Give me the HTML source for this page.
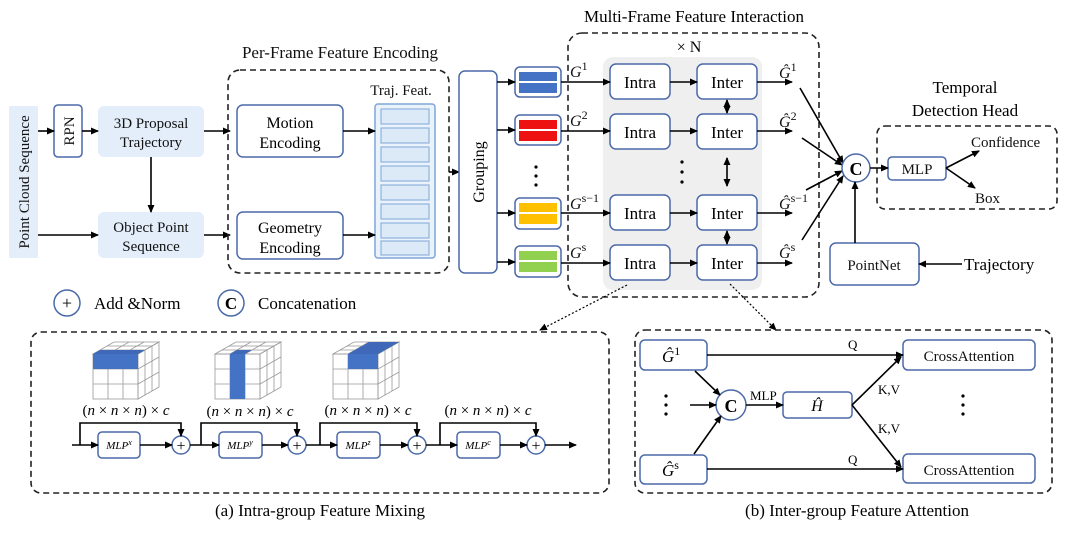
<!DOCTYPE html>
<html><head><meta charset="utf-8"><style>
html,body{margin:0;padding:0;background:#fff;}
svg{display:block;font-family:"Liberation Serif",serif;}
.bx{fill:#fff;stroke:#4a69a8;stroke-width:1.5;}
.lb{fill:#e3eefa;stroke:none;}
.dash{fill:none;stroke:#222;stroke-width:1.6;stroke-dasharray:6,4;}
.ln{stroke:#000;stroke-width:1.6;fill:none;}
.t{font-size:15px;fill:#111;}
.it{font-style:italic;}
.g{stroke:#999;stroke-width:0.8;fill:none;}
</style></head><body>
<svg width="1080" height="534" viewBox="0 0 1080 534" xmlns="http://www.w3.org/2000/svg">
<defs>
<marker id="a" markerWidth="8" markerHeight="8" refX="7" refY="4" orient="auto" markerUnits="userSpaceOnUse"><path d="M0,0.5 L8,4 L0,7.5 z" fill="#000"/></marker>
<marker id="as" markerWidth="8" markerHeight="8" refX="1" refY="4" orient="auto" markerUnits="userSpaceOnUse"><path d="M8,0.5 L0,4 L8,7.5 z" fill="#000"/></marker>
<g id="cube">
<rect x="0" y="12" width="45" height="45" fill="#fff" class="g"/>
<polygon points="0,12 45,12 66,0 21,0" fill="#fff" class="g"/>
<polygon points="45,12 66,0 66,45 45,57" fill="#fff" class="g"/>
<path class="g" d="M15,12V57M30,12V57M0,27H45M0,42H45M15,12L36,0M30,12L51,0M7,8H52M14,4H59M52,8V53M59,4V49M45,27L66,15M45,42L66,30"/>
</g>
</defs>

<!-- titles -->
<text x="340" y="58" class="t" font-size="17" text-anchor="middle" style="font-size:17px">Per-Frame Feature Encoding</text>
<text x="694" y="22" text-anchor="middle" style="font-size:17px">Multi-Frame Feature Interaction</text>
<text x="965" y="93" text-anchor="middle" style="font-size:17px">Temporal</text>
<text x="965" y="116" text-anchor="middle" style="font-size:17px">Detection Head</text>

<!-- left -->
<rect x="9" y="106" width="29" height="152" class="lb" rx="2"/>
<text transform="translate(29,182) rotate(-90)" text-anchor="middle" class="t">Point Cloud Sequence</text>
<rect x="54" y="105" width="28" height="52" rx="4" class="bx"/>
<text transform="translate(74,131) rotate(-90)" text-anchor="middle" class="t">RPN</text>
<rect x="98" y="106" width="106" height="51" rx="6" class="lb"/>
<text x="151" y="128" text-anchor="middle" class="t">3D Proposal</text>
<text x="151" y="147" text-anchor="middle" class="t">Trajectory</text>
<rect x="98" y="212" width="106" height="46" rx="6" class="lb"/>
<text x="151" y="232" text-anchor="middle" class="t">Object Point</text>
<text x="151" y="251" text-anchor="middle" class="t">Sequence</text>
<line x1="38" y1="131" x2="54" y2="131" class="ln" marker-end="url(#a)"/>
<line x1="82" y1="131" x2="98" y2="131" class="ln" marker-end="url(#a)"/>
<line x1="151" y1="157" x2="151" y2="212" class="ln" marker-end="url(#a)"/>
<line x1="38" y1="235" x2="98" y2="235" class="ln" marker-end="url(#a)"/>
<line x1="204" y1="131" x2="230" y2="131" class="ln" marker-end="url(#a)"/>
<line x1="204" y1="235" x2="230" y2="235" class="ln" marker-end="url(#a)"/>

<!-- per-frame -->
<rect x="228" y="70" width="221" height="203" rx="12" class="dash"/>
<rect x="237" y="105" width="106" height="52" rx="6" class="bx"/>
<text x="290" y="128" text-anchor="middle" style="font-size:16px">Motion</text>
<text x="290" y="148" text-anchor="middle" style="font-size:16px">Encoding</text>
<rect x="237" y="212" width="106" height="47" rx="6" class="bx"/>
<text x="290" y="233" text-anchor="middle" style="font-size:16px">Geometry</text>
<text x="290" y="253" text-anchor="middle" style="font-size:16px">Encoding</text>
<text x="401" y="95" text-anchor="middle" class="t">Traj. Feat.</text>
<rect x="375" y="104" width="60" height="154" rx="3" fill="#eaf2fb" stroke="#7fa6d6" stroke-width="1.5"/>
<g fill="#dce9f7" stroke="#8fb3de" stroke-width="1.2">
<rect x="381" y="109" width="48" height="15"/><rect x="381" y="128" width="48" height="15"/>
<rect x="381" y="147" width="48" height="15"/><rect x="381" y="166" width="48" height="15"/>
<rect x="381" y="185" width="48" height="15"/><rect x="381" y="204" width="48" height="15"/>
<rect x="381" y="223" width="48" height="15"/><rect x="381" y="241" width="48" height="14"/>
</g>
<line x1="343" y1="131" x2="375" y2="131" class="ln" marker-end="url(#a)"/>
<line x1="343" y1="235" x2="375" y2="235" class="ln" marker-end="url(#a)"/>
<line x1="449" y1="172" x2="459" y2="172" class="ln" marker-end="url(#a)"/>

<!-- grouping -->
<rect x="459" y="71" width="38" height="202" rx="6" class="bx"/>
<text transform="translate(484,172) rotate(-90)" text-anchor="middle" style="font-size:16px">Grouping</text>

<!-- color boxes -->
<g>
<rect x="515" y="67" width="46" height="30" rx="5" class="bx"/>
<rect x="519" y="72" width="38" height="9" fill="#4472c4"/><rect x="519" y="83" width="38" height="10" fill="#4472c4"/>
<rect x="515" y="115" width="46" height="30" rx="5" class="bx"/>
<rect x="519" y="120" width="38" height="9" fill="#ee1111"/><rect x="519" y="131" width="38" height="10" fill="#ee1111"/>
<rect x="515" y="198" width="46" height="31" rx="5" class="bx"/>
<rect x="519" y="203" width="38" height="9" fill="#ffc000"/><rect x="519" y="214" width="38" height="10" fill="#ffc000"/>
<rect x="515" y="246" width="46" height="31" rx="5" class="bx"/>
<rect x="519" y="251" width="38" height="9" fill="#92d050"/><rect x="519" y="262" width="38" height="10" fill="#92d050"/>
</g>
<g fill="#000"><circle cx="536" cy="167" r="1.6"/><circle cx="536" cy="176" r="1.6"/><circle cx="536" cy="185" r="1.6"/></g>
<line x1="497" y1="82" x2="515" y2="82" class="ln" marker-end="url(#a)"/>
<line x1="497" y1="130" x2="515" y2="130" class="ln" marker-end="url(#a)"/>
<line x1="497" y1="213" x2="515" y2="213" class="ln" marker-end="url(#a)"/>
<line x1="497" y1="262" x2="515" y2="262" class="ln" marker-end="url(#a)"/>

<!-- multi-frame -->
<rect x="603" y="57" width="159" height="233" rx="10" fill="#efefef"/>
<rect x="568" y="33" width="251" height="264" rx="14" class="dash"/>
<text x="689" y="52" text-anchor="middle" style="font-size:16px">× N</text>
<g class="t" style="font-size:16px">
<text x="570" y="77" class="it">G<tspan dy="-7" font-size="12" font-style="normal">1</tspan></text>
<text x="570" y="126" class="it">G<tspan dy="-7" font-size="12" font-style="normal">2</tspan></text>
<text x="570" y="209" class="it">G<tspan dy="-7" font-size="12" font-style="normal">s−1</tspan></text>
<text x="570" y="258" class="it">G<tspan dy="-7" font-size="12" font-style="normal">s</tspan></text>
<text x="779" y="78" class="it">Ĝ<tspan dy="-7" font-size="12" font-style="normal">1</tspan></text>
<text x="779" y="127" class="it">Ĝ<tspan dy="-7" font-size="12" font-style="normal">2</tspan></text>
<text x="779" y="209" class="it">Ĝ<tspan dy="-7" font-size="12" font-style="normal">s−1</tspan></text>
<text x="779" y="258" class="it">Ĝ<tspan dy="-7" font-size="12" font-style="normal">s</tspan></text>
</g>
<g>
<rect x="610" y="64" width="60" height="35" rx="6" class="bx"/><rect x="697" y="64" width="60" height="35" rx="6" class="bx"/>
<rect x="610" y="114" width="60" height="35" rx="6" class="bx"/><rect x="697" y="114" width="60" height="35" rx="6" class="bx"/>
<rect x="610" y="195" width="60" height="35" rx="6" class="bx"/><rect x="697" y="195" width="60" height="35" rx="6" class="bx"/>
<rect x="610" y="245" width="60" height="35" rx="6" class="bx"/><rect x="697" y="245" width="60" height="35" rx="6" class="bx"/>
</g>
<g style="font-size:17px" text-anchor="middle">
<text x="640" y="88">Intra</text><text x="727" y="88">Inter</text>
<text x="640" y="138">Intra</text><text x="727" y="138">Inter</text>
<text x="640" y="219">Intra</text><text x="727" y="219">Inter</text>
<text x="640" y="269">Intra</text><text x="727" y="269">Inter</text>
</g>
<g fill="#000"><circle cx="682" cy="162" r="1.6"/><circle cx="682" cy="172" r="1.6"/><circle cx="682" cy="182" r="1.6"/></g>
<g>
<line x1="561" y1="82" x2="610" y2="82" class="ln" marker-end="url(#a)"/>
<line x1="561" y1="131" x2="610" y2="131" class="ln" marker-end="url(#a)"/>
<line x1="561" y1="213" x2="610" y2="213" class="ln" marker-end="url(#a)"/>
<line x1="561" y1="263" x2="610" y2="263" class="ln" marker-end="url(#a)"/>
<line x1="670" y1="82" x2="697" y2="82" class="ln" marker-end="url(#a)"/>
<line x1="670" y1="131" x2="697" y2="131" class="ln" marker-end="url(#a)"/>
<line x1="670" y1="213" x2="697" y2="213" class="ln" marker-end="url(#a)"/>
<line x1="670" y1="263" x2="697" y2="263" class="ln" marker-end="url(#a)" stroke-width="2.4"/>
<line x1="757" y1="82" x2="792" y2="82" class="ln" marker-end="url(#a)"/>
<line x1="757" y1="131" x2="792" y2="131" class="ln" marker-end="url(#a)"/>
<line x1="757" y1="213" x2="792" y2="213" class="ln" marker-end="url(#a)"/>
<line x1="757" y1="263" x2="792" y2="263" class="ln" marker-end="url(#a)"/>
<line x1="727" y1="100" x2="727" y2="113" class="ln" marker-end="url(#a)" marker-start="url(#as)"/>
<line x1="727" y1="158" x2="727" y2="186" class="ln" marker-end="url(#a)" marker-start="url(#as)"/>
<line x1="727" y1="231" x2="727" y2="244" class="ln" marker-end="url(#a)" marker-start="url(#as)"/>
</g>
<line x1="800" y1="88" x2="843" y2="163" class="ln" marker-end="url(#a)"/>
<line x1="802" y1="138" x2="842" y2="165" class="ln" marker-end="url(#a)"/>
<line x1="806" y1="190" x2="842" y2="171" class="ln" marker-end="url(#a)"/>
<line x1="802" y1="240" x2="843" y2="176" class="ln" marker-end="url(#a)"/>
<circle cx="856" cy="168" r="14" class="bx"/>
<text x="856" y="175" text-anchor="middle" font-weight="bold" style="font-size:18px">C</text>

<!-- detection head -->
<rect x="877" y="126" width="180" height="83" rx="8" class="dash"/>
<rect x="888" y="157" width="58" height="23" rx="4" class="bx"/>
<text x="917" y="174" text-anchor="middle" class="t">MLP</text>
<line x1="870" y1="168" x2="888" y2="168" class="ln" marker-end="url(#a)"/>
<line x1="946" y1="168" x2="979" y2="151" class="ln" marker-end="url(#a)"/>
<line x1="946" y1="168" x2="975" y2="188" class="ln" marker-end="url(#a)"/>
<text x="971" y="147" class="t">Confidence</text>
<text x="975" y="203" class="t">Box</text>
<rect x="830" y="243" width="89" height="42" rx="6" class="bx"/>
<text x="874" y="270" text-anchor="middle" class="t">PointNet</text>
<line x1="855" y1="243" x2="855" y2="182" class="ln" stroke-width="2.4" marker-end="url(#a)"/>
<line x1="962" y1="264" x2="919" y2="264" class="ln" marker-end="url(#a)"/>
<text x="964" y="270" style="font-size:17px">Trajectory</text>

<!-- legend -->
<circle cx="67" cy="303" r="13" class="bx"/>
<text x="67" y="309" text-anchor="middle" style="font-size:18px">+</text>
<text x="94" y="309" style="font-size:17px">Add &amp;Norm</text>
<circle cx="231" cy="303" r="13" class="bx"/>
<text x="231" y="309" text-anchor="middle" font-weight="bold" style="font-size:17px">C</text>
<text x="258" y="309" style="font-size:17px">Concatenation</text>

<!-- dotted connectors -->
<line x1="627" y1="285" x2="540" y2="330" stroke="#000" stroke-width="1.2" stroke-dasharray="2,2" marker-end="url(#a)"/>
<line x1="730" y1="284" x2="776" y2="330" stroke="#000" stroke-width="1.2" stroke-dasharray="2,2" marker-end="url(#a)"/>

<!-- (a) -->
<rect x="31" y="332" width="578" height="161" rx="10" class="dash"/>
<use href="#cube" x="93" y="342"/>
<rect x="93" y="354" width="45" height="15" fill="#4472c4"/>
<polygon points="93,354 138,354 145,350 100,350" fill="#3f69b8"/>
<use href="#cube" x="215" y="342"/>
<rect x="230" y="354" width="15" height="45" fill="#4472c4"/>
<polygon points="230,354 245,354 252,350 237,350" fill="#3f69b8"/>
<use href="#cube" x="333" y="342"/>
<rect x="348" y="354" width="30" height="15" fill="#4472c4"/>
<polygon points="348,354 378,354 399,342 369,342" fill="#3f69b8"/>
<g style="font-size:15px" text-anchor="middle">
<text x="126" y="415"><tspan>(</tspan><tspan class="it">n</tspan> × <tspan class="it">n</tspan> × <tspan class="it">n</tspan>) × <tspan class="it">c</tspan></text>
<text x="250" y="416"><tspan>(</tspan><tspan class="it">n</tspan> × <tspan class="it">n</tspan> × <tspan class="it">n</tspan>) × <tspan class="it">c</tspan></text>
<text x="368" y="415"><tspan>(</tspan><tspan class="it">n</tspan> × <tspan class="it">n</tspan> × <tspan class="it">n</tspan>) × <tspan class="it">c</tspan></text>
<text x="488" y="415"><tspan>(</tspan><tspan class="it">n</tspan> × <tspan class="it">n</tspan> × <tspan class="it">n</tspan>) × <tspan class="it">c</tspan></text>
</g>
<g>
<rect x="98" y="432" width="42" height="26" rx="4" class="bx"/>
<rect x="219" y="432" width="43" height="26" rx="4" class="bx"/>
<rect x="337" y="432" width="43" height="26" rx="4" class="bx"/>
<rect x="457" y="432" width="43" height="26" rx="4" class="bx"/>
</g>
<g style="font-size:11px;font-style:italic" text-anchor="middle">
<text x="119" y="449">MLP<tspan dy="-4" font-size="8">x</tspan></text>
<text x="240" y="449">MLP<tspan dy="-4" font-size="8">y</tspan></text>
<text x="358" y="449">MLP<tspan dy="-4" font-size="8">z</tspan></text>
<text x="478" y="449">MLP<tspan dy="-4" font-size="8">c</tspan></text>
</g>
<g>
<circle cx="181" cy="445" r="9" class="bx"/><circle cx="297" cy="445" r="9" class="bx"/>
<circle cx="417" cy="445" r="9" class="bx"/><circle cx="536" cy="445" r="9" class="bx"/>
</g>
<g style="font-size:16px" text-anchor="middle">
<text x="181" y="451">+</text><text x="297" y="451">+</text><text x="417" y="451">+</text><text x="536" y="451">+</text>
</g>
<g>
<line x1="72" y1="445" x2="98" y2="445" class="ln" stroke-width="2.2" marker-end="url(#a)"/>
<polyline points="80,445 80,423 181,423 181,436" class="ln" stroke-width="2.2" marker-end="url(#a)"/>
<line x1="140" y1="445" x2="172" y2="445" class="ln" marker-end="url(#a)"/>
<line x1="190" y1="445" x2="219" y2="445" class="ln" stroke-width="2.2" marker-end="url(#a)"/>
<polyline points="201,445 201,423 297,423 297,436" class="ln" stroke-width="2.2" marker-end="url(#a)"/>
<line x1="262" y1="445" x2="288" y2="445" class="ln" marker-end="url(#a)"/>
<line x1="306" y1="445" x2="337" y2="445" class="ln" stroke-width="2.2" marker-end="url(#a)"/>
<polyline points="320,445 320,423 417,423 417,436" class="ln" stroke-width="2.2" marker-end="url(#a)"/>
<line x1="380" y1="445" x2="408" y2="445" class="ln" marker-end="url(#a)"/>
<line x1="426" y1="445" x2="457" y2="445" class="ln" stroke-width="2.2" marker-end="url(#a)"/>
<polyline points="440,445 440,423 536,423 536,436" class="ln" stroke-width="2.2" marker-end="url(#a)"/>
<line x1="500" y1="445" x2="527" y2="445" class="ln" marker-end="url(#a)"/>
<line x1="545" y1="445" x2="576" y2="445" class="ln" marker-end="url(#a)"/>
</g>
<text x="320" y="516" text-anchor="middle" style="font-size:17px">(a) Intra-group Feature Mixing</text>

<!-- (b) -->
<rect x="635" y="330" width="417" height="163" rx="10" class="dash"/>
<rect x="640" y="340" width="67" height="30" rx="5" class="bx"/>
<rect x="640" y="455" width="67" height="29" rx="5" class="bx"/>
<text x="662" y="362" class="it" style="font-size:17px">Ĝ<tspan dy="-7" font-size="12" font-style="normal">1</tspan></text>
<text x="662" y="476" class="it" style="font-size:17px">Ĝ<tspan dy="-7" font-size="12" font-style="normal">s</tspan></text>
<rect x="903" y="340" width="132" height="30" rx="5" class="bx"/>
<rect x="903" y="454" width="132" height="29" rx="5" class="bx"/>
<text x="969" y="361" text-anchor="middle" class="t">CrossAttention</text>
<text x="969" y="475" text-anchor="middle" class="t">CrossAttention</text>
<g fill="#000"><circle cx="666" cy="396" r="1.6"/><circle cx="666" cy="405" r="1.6"/><circle cx="666" cy="414" r="1.6"/>
<circle cx="963" cy="396" r="1.6"/><circle cx="963" cy="405" r="1.6"/><circle cx="963" cy="414" r="1.6"/></g>
<circle cx="731" cy="405" r="15" class="bx"/>
<text x="731" y="412" text-anchor="middle" font-weight="bold" style="font-size:18px">C</text>
<rect x="783" y="392" width="69" height="26" rx="4" class="bx"/>
<text x="817" y="411" text-anchor="middle" class="it" style="font-size:16px">Ĥ</text>
<text x="750" y="400" style="font-size:13px">MLP</text>
<text x="848" y="349" style="font-size:13px">Q</text>
<text x="848" y="464" style="font-size:13px">Q</text>
<text x="878" y="394" style="font-size:13px">K,V</text>
<text x="878" y="433" style="font-size:13px">K,V</text>
<line x1="707" y1="355" x2="903" y2="355" class="ln" stroke-width="2" marker-end="url(#a)"/>
<line x1="707" y1="469" x2="903" y2="469" class="ln" stroke-width="2" marker-end="url(#a)"/>
<line x1="695" y1="371" x2="720" y2="395" class="ln" marker-end="url(#a)"/>
<line x1="694" y1="454" x2="721" y2="416" class="ln" marker-end="url(#a)"/>
<line x1="690" y1="405" x2="716" y2="405" class="ln" marker-end="url(#a)"/>
<line x1="746" y1="405" x2="783" y2="405" class="ln" marker-end="url(#a)"/>
<line x1="852" y1="405" x2="901" y2="357" class="ln" marker-end="url(#a)"/>
<line x1="852" y1="405" x2="901" y2="467" class="ln" marker-end="url(#a)"/>
<text x="857" y="516" text-anchor="middle" style="font-size:17px">(b) Inter-group Feature Attention</text>
</svg>
</body></html>
